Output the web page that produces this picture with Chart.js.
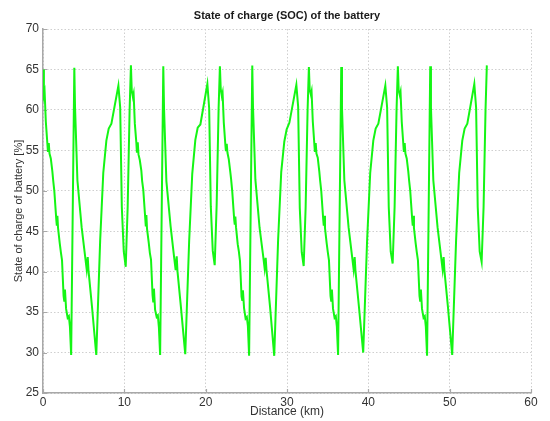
<!DOCTYPE html>
<html>
<head>
<meta charset="utf-8">
<script src="https://cdn.jsdelivr.net/npm/chart.js@4/dist/chart.umd.min.js"></script>
<style>
html,body{margin:0;padding:0;background:#fff;}
#wrap{width:550px;height:421px;}
</style>
</head>
<body>
<div id="wrap"><canvas id="c" width="550" height="421"></canvas></div>
<script>
const chartTitle = "State of charge (SOC) of the battery";
const xAxisTitle = "Distance (km)";
const yAxisTitle = "State of charge of battery [%]";
const xTicks = [0, 10, 20, 30, 40, 50, 60];
const yTicks = [25, 30, 35, 40, 45, 50, 55, 60, 65, 70];

const distanceKm = [
  0.00, 0.11, 0.20, 0.35, 0.54, 0.61, 0.71, 0.80, 0.96, 1.15, 1.25, 1.39, 1.63, 1.70, 1.77, 1.85, 2.06, 2.20, 2.34, 2.53, 2.61, 2.70, 2.84, 3.03, 3.18, 3.31, 3.46, 3.85, 3.94, 4.23, 4.75, 5.18, 5.37, 5.50, 5.59, 6.03, 6.55, 7.03, 7.41, 7.79, 8.08, 8.41, 9.27, 9.49, 9.69, 9.93, 10.17, 10.41, 10.65,
  10.81, 10.91, 11.05, 11.14, 11.29, 11.48, 11.55, 11.65, 11.74, 11.90, 12.09, 12.19, 12.33, 12.57, 12.64, 12.71, 12.79, 13.00, 13.14, 13.28, 13.47, 13.55, 13.64, 13.78, 13.97, 14.12, 14.25, 14.40, 14.79, 14.88, 15.17, 15.69, 16.12, 16.31, 16.44, 16.53, 16.97, 17.49, 17.97, 18.35, 18.73, 19.02, 19.35, 20.21, 20.43, 20.63, 20.87, 21.11, 21.35, 21.59,
  21.75, 21.85, 21.99, 22.08, 22.23, 22.42, 22.49, 22.59, 22.68, 22.84, 23.03, 23.13, 23.27, 23.51, 23.58, 23.65, 23.73, 23.94, 24.08, 24.22, 24.41, 24.49, 24.58, 24.72, 24.91, 25.06, 25.19, 25.34, 25.73, 25.82, 26.11, 26.63, 27.06, 27.25, 27.38, 27.47, 27.91, 28.43, 28.91, 29.29, 29.67, 29.96, 30.29, 31.15, 31.37, 31.57, 31.81, 32.05, 32.29, 32.53,
  32.69, 32.79, 32.93, 33.02, 33.17, 33.36, 33.43, 33.53, 33.62, 33.78, 33.97, 34.07, 34.21, 34.45, 34.52, 34.59, 34.67, 34.88, 35.02, 35.16, 35.35, 35.43, 35.52, 35.66, 35.85, 36.00, 36.13, 36.28, 36.67, 36.76, 37.05, 37.57, 38.00, 38.19, 38.32, 38.41, 38.85, 39.37, 39.85, 40.23, 40.61, 40.90, 41.23, 42.09, 42.31, 42.51, 42.75, 42.99, 43.23, 43.47,
  43.63, 43.73, 43.87, 43.96, 44.11, 44.30, 44.37, 44.47, 44.56, 44.72, 44.91, 45.01, 45.15, 45.39, 45.46, 45.53, 45.61, 45.82, 45.96, 46.10, 46.29, 46.37, 46.46, 46.60, 46.79, 46.94, 47.07, 47.22, 47.61, 47.70, 47.99, 48.51, 48.94, 49.13, 49.26, 49.35, 49.79, 50.31, 50.79, 51.17, 51.55, 51.84, 52.17, 53.03, 53.25, 53.45, 53.69, 53.93, 54.17, 54.41, 54.57
];

const socPercent = [
  65.0, 61.8, 62.2, 58.5, 55.8, 54.8, 55.9, 54.6, 54.0, 52.4, 51.3, 50.0, 46.5, 45.7, 46.9, 45.4, 43.5, 42.4, 41.4, 37.0, 36.4, 37.8, 35.4, 34.3, 34.5, 33.2, 29.7, 65.2, 60.3, 51.3, 45.5, 41.9, 40.3, 41.8, 40.2, 35.6, 29.7, 43.9, 52.2, 56.2, 57.7, 58.3, 63.0, 60.3, 48.0, 42.5, 40.6, 48.0, 60.0,
  65.5, 62.4, 61.6, 62.0, 58.3, 55.9, 54.7, 56.0, 54.5, 53.8, 52.5, 51.2, 50.1, 46.6, 45.6, 47.0, 45.3, 43.6, 42.3, 41.5, 37.1, 36.3, 37.9, 35.3, 34.4, 34.6, 33.1, 29.7, 65.4, 60.2, 51.2, 45.6, 41.8, 40.2, 41.9, 40.1, 35.5, 29.8, 43.8, 52.1, 56.3, 57.8, 58.2, 63.2, 60.2, 48.1, 42.6, 40.8, 48.2, 60.1,
  65.4, 62.6, 61.7, 62.1, 58.4, 55.7, 54.9, 55.8, 54.7, 53.9, 52.3, 51.4, 49.9, 46.4, 45.8, 46.8, 45.5, 43.4, 42.5, 41.3, 36.9, 36.5, 37.7, 35.5, 34.2, 34.4, 33.3, 29.6, 65.5, 60.4, 51.4, 45.4, 42.0, 40.4, 41.7, 40.3, 35.7, 29.6, 44.0, 52.3, 56.1, 57.6, 58.4, 63.1, 60.4, 47.9, 42.4, 40.7, 47.9, 59.9,
  65.3, 62.5, 61.9, 62.3, 58.6, 55.8, 54.8, 55.9, 54.6, 54.1, 52.4, 51.3, 50.0, 46.5, 45.7, 46.9, 45.4, 43.5, 42.4, 41.4, 37.0, 36.4, 37.8, 35.4, 34.3, 34.5, 33.2, 29.7, 65.3, 60.3, 51.3, 45.5, 41.9, 40.3, 41.8, 40.2, 35.6, 30.0, 43.9, 52.2, 56.2, 57.7, 58.3, 63.0, 60.3, 48.0, 42.5, 41.0, 48.0, 60.0,
  65.4, 62.4, 61.8, 62.2, 58.5, 55.8, 54.8, 55.9, 54.6, 54.0, 52.4, 51.3, 50.0, 46.5, 45.7, 46.9, 45.4, 43.5, 42.4, 41.4, 37.0, 36.4, 37.8, 35.4, 34.3, 34.5, 33.2, 29.6, 65.4, 60.3, 51.3, 45.5, 41.9, 40.3, 41.8, 40.2, 35.6, 29.7, 43.9, 52.2, 56.2, 57.7, 58.3, 63.2, 60.3, 48.0, 42.5, 41.2, 48.0, 60.0, 65.5
];

const points = distanceKm.map((d, i) => ({ x: d, y: socPercent[i] }));

const titlePlugin = {
  id: 'centerTitle',
  afterDraw(chart) {
    const { ctx, chartArea } = chart;
    ctx.save();
    ctx.font = 'bold 11px "Liberation Sans", Arial, sans-serif';
    ctx.fillStyle = '#1a1a1a';
    ctx.textAlign = 'center';
    ctx.textBaseline = 'middle';
    ctx.fillText(chartTitle, (chartArea.left + chartArea.right) / 2, 16);
    ctx.restore();
  }
};

// small inward tick marks along the left and bottom axes (MATLAB style)
const tickMarkPlugin = {
  id: 'tickMarks',
  beforeDatasetsDraw(chart) {
    const { ctx, chartArea, scales } = chart;
    ctx.save();
    ctx.strokeStyle = '#a8a8a8';
    ctx.lineWidth = 1.2;
    ctx.beginPath();
    scales.y.ticks.forEach(t => {
      const py = Math.round(scales.y.getPixelForValue(t.value)) + 0.5;
      ctx.moveTo(chartArea.left, py);
      ctx.lineTo(chartArea.left + 4, py);
    });
    scales.x.ticks.forEach(t => {
      const px = Math.round(scales.x.getPixelForValue(t.value)) + 0.5;
      ctx.moveTo(px, chartArea.bottom);
      ctx.lineTo(px, chartArea.bottom - 4);
    });
    ctx.stroke();
    ctx.restore();
  }
};

const tickFont = { family: '"Liberation Sans", Arial, sans-serif', size: 12 };

new Chart(document.getElementById('c'), {
  type: 'line',
  data: {
    datasets: [{
      data: points,
      borderColor: 'rgb(20,245,20)',
      borderWidth: 2,
      pointRadius: 0,
      tension: 0,
      fill: false
    }]
  },
  options: {
    responsive: false,
    animation: false,
    layout: { padding: { top: 29, right: 19, bottom: 0, left: 0 } },
    plugins: { legend: { display: false }, tooltip: { enabled: false }, title: { display: false } },
    scales: {
      x: {
        type: 'linear',
        min: 0, max: 60,
        afterBuildTicks: (s) => { s.ticks = xTicks.map(v => ({ value: v })); },
        afterFit: (s) => { s.height = 28; },
        ticks: { color: '#333', font: tickFont, padding: 2, maxRotation: 0 },
        grid: { color: '#cfcfcf', lineWidth: 1, drawTicks: false },
        border: { color: '#a8a8a8', width: 1.5, dash: [1.5, 2] },
        title: { display: true, text: xAxisTitle, color: '#333', font: tickFont, padding: { top: 0, bottom: 2 } }
      },
      y: {
        type: 'linear',
        min: 25, max: 70,
        afterBuildTicks: (s) => { s.ticks = yTicks.map(v => ({ value: v })); },
        afterFit: (s) => { s.width = 43; },
        ticks: { color: '#333', font: tickFont, padding: 4 },
        grid: { color: '#cfcfcf', lineWidth: 1, drawTicks: false },
        border: { color: '#a8a8a8', width: 1.5, dash: [1.5, 2] },
        title: { display: true, text: yAxisTitle, color: '#333', font: { family: tickFont.family, size: 11 }, padding: { top: 12, bottom: 0 } }
      }
    }
  },
  plugins: [titlePlugin, tickMarkPlugin]
});
</script>
</body>
</html>
